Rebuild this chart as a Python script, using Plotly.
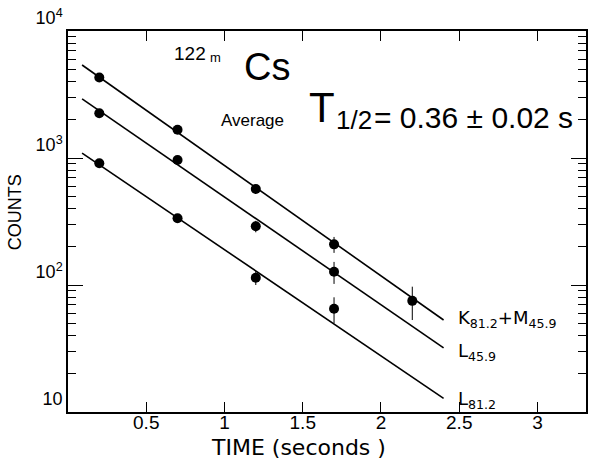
import plotly.graph_objects as go

# Data
time_k = [0.2, 0.7, 1.2, 1.7, 2.2]
counts_k = [4300, 1670, 570, 209, 75]
err_k = [0, 0, 0, 30, 22]

time_l459 = [0.2, 0.7, 1.2, 1.7]
counts_l459 = [2250, 964, 290, 127]
err_l459 = [0, 0, 30, 25]

time_l812 = [0.2, 0.7, 1.2, 1.7]
counts_l812 = [908, 335, 114, 65]
err_l812 = [0, 0, 14, 15]

fit_x = [0.09, 2.4]
fit_k = [5400, 53]
fit_l459 = [2920, 32]
fit_l812 = [1094, 12.8]

x_ticks = [0.5, 1, 1.5, 2, 2.5, 3]
x_tick_text = ["0.5", "1", "1.5", "2", "2.5", "3"]
y_ticks = [10, 100, 1000, 10000]
y_tick_text = ["10", "10<sup>2</sup>", "10<sup>3</sup>", "10<sup>4</sup>"]
decades = [10, 100, 1000]
minor_steps = [2, 3, 4, 5, 6, 7, 8, 9]
y_minor = [d * m for d in decades for m in minor_steps]

FONT = "Liberation Sans"
fig = go.Figure()

fits = [(fit_k, "y"), (fit_l459, "y"), (fit_l812, "y2")]
for fy, ax in fits:
    fig.add_trace(go.Scatter(x=fit_x, y=fy, mode="lines", yaxis=ax,
                             line=dict(color="black", width=1.6),
                             showlegend=False, hoverinfo="skip"))

for tx, cy, ey in [(time_k, counts_k, err_k), (time_l459, counts_l459, err_l459),
                   (time_l812, counts_l812, err_l812)]:
    fig.add_trace(go.Scatter(x=tx, y=cy, mode="markers",
                             marker=dict(color="black", size=10),
                             error_y=dict(type="data", array=ey, color="black",
                                          thickness=1, width=0),
                             showlegend=False))

fig.update_layout(
    xaxis=dict(range=[0, 3.31], showline=True, linecolor="black", linewidth=1.5,
               mirror="ticks", ticks="inside", ticklen=10, tickcolor="black", tickwidth=1.3,
               tickvals=x_ticks, ticktext=x_tick_text, showgrid=False, zeroline=False,
               automargin=False, ticklabelstandoff=-8,
               tickfont=dict(family=FONT, size=19, color="black")),
    yaxis=dict(type="log", range=[1, 4], showline=True, linecolor="black", linewidth=1.5,
               mirror="ticks", ticks="inside", ticklen=15, tickcolor="black", tickwidth=1.3,
               tickvals=y_ticks, ticktext=y_tick_text, ticklabelposition="outside top",
               showgrid=False, zeroline=False, automargin=False,
               tickfont=dict(family=FONT, size=18, color="black")),
    yaxis2=dict(type="log", range=[1, 4], overlaying="y", side="left",
                showline=True, linecolor="black", linewidth=1.5, mirror="ticks",
                ticks="inside", ticklen=8, tickcolor="black", tickwidth=1.1,
                tickvals=y_minor, showticklabels=False, showgrid=False, zeroline=False,
                automargin=False),
)

annotations = []
texts = [
    ("122", 0.78, 0.94, 19),
    ("m", 0.945, 0.93, 13),
    ("Cs", 1.274, 0.905, 38),
    ("Average", 1.181, 0.764, 17),
    ("T", 1.625, 0.798, 42),
    ("1/2", 1.826, 0.766, 26),
    ("= 0.36 ± 0.02 s", 2.589, 0.772, 30),
]
for t, x, y, s in texts:
    annotations.append(dict(x=x, y=y, xref="x", yref="paper", text=t, showarrow=False,
                            xanchor="center", yanchor="middle",
                            font=dict(family=FONT, color="black", size=s)))
labels = [
    ("K<sub>81.2</sub>+M<sub>45.9</sub>", 2.48, 0.244),
    ("L<sub>45.9</sub>", 2.48, 0.157),
    ("L<sub>81.2</sub>", 2.48, 0.032),
]
for t, x, y in labels:
    annotations.append(dict(x=x, y=y, xref="x", yref="paper", text=t, showarrow=False,
                            xanchor="left", yanchor="middle",
                            font=dict(family="DejaVu Sans", color="black", size=18)))
annotations.append(dict(x=-0.102, y=0.525, xref="paper", yref="paper", text="COUNTS",
                        textangle=-90, showarrow=False, xanchor="center", yanchor="middle",
                        font=dict(family=FONT, color="black", size=18)))
annotations.append(dict(x=1.475, y=-0.092, xref="x", yref="paper", text="TIME (seconds )",
                        showarrow=False, xanchor="center", yanchor="middle",
                        font=dict(family="DejaVu Sans", color="black", size=22)))

fig.update_layout(width=590, height=460, margin=dict(l=68, r=4, t=31, b=48),
                  paper_bgcolor="white", plot_bgcolor="white",
                  annotations=annotations, showlegend=False)

fig.write_html("out.html")
